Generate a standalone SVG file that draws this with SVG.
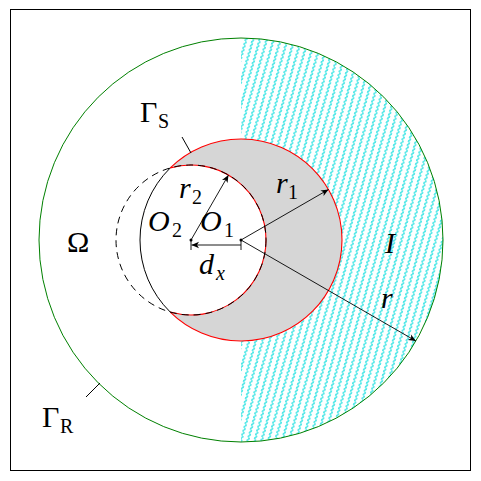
<svg xmlns="http://www.w3.org/2000/svg" width="481" height="481" viewBox="0 0 481 481">
<style>
.lbl{font-family:"Liberation Serif","Times New Roman",serif;font-size:30px;fill:#000}
.it{font-style:italic}
.sub{font-size:20px}
.arr{stroke:#000;stroke-width:0.9;fill:none}
.lead{stroke:#000;stroke-width:1;fill:none}
</style>
<defs>
<marker id="ah" markerWidth="10" markerHeight="8" refX="0" refY="0" viewBox="-8 -4 10 8" orient="auto" markerUnits="userSpaceOnUse">
<path d="M0,0 L-7.5,-3.2 L-5.5,0 L-7.5,3.2 Z" fill="#000"/>
</marker>
<pattern id="hatch" patternUnits="userSpaceOnUse" width="6.6" height="4" patternTransform="rotate(16)">
<path d="M3.3,0 Q4.9,1 3.3,2 Q1.7,3 3.3,4" stroke="#00dcdc" stroke-width="1" fill="none"/>
</pattern>
<clipPath id="rightHalf">
<rect x="241" y="0" width="240" height="481"/>
</clipPath>
</defs>
<rect x="10.5" y="9.5" width="460" height="461" fill="#fff" stroke="#000" stroke-width="1"/>
<g id="region-I">
<circle cx="241" cy="240" r="202" fill="url(#hatch)" clip-path="url(#rightHalf)"/>
</g>
<g id="gamma-R">
<circle cx="241" cy="240" r="202" fill="none" stroke="#008000" stroke-width="1"/>
</g>
<g id="gamma-S">
<circle cx="241" cy="240" r="101" fill="#fff"/>
<path d="M170.24,167.93 A101,101 0 1 1 170.24,312.07 A75,75 0 1 0 170.24,167.93 Z" fill="#d6d6d6" stroke="#ff0000" stroke-width="1.1"/>
<path d="M170.24,167.93 A101,101 0 0 0 170.24,312.07" fill="none" stroke="#000" stroke-width="1"/>
</g>
<g id="omega-circle">
<circle cx="191" cy="240" r="75" fill="none" stroke="#000" stroke-width="1" stroke-dasharray="7 5"/>
</g>
<g id="connectors">
<line class="arr" x1="191" y1="240" x2="228.5" y2="175" marker-end="url(#ah)"/>
<line class="arr" x1="241" y1="240" x2="328.5" y2="189.5" marker-end="url(#ah)"/>
<line class="arr" x1="241" y1="240" x2="415.9" y2="341" marker-end="url(#ah)"/>
<line class="arr" x1="241" y1="245" x2="191.5" y2="245" marker-end="url(#ah)"/>
<line class="arr" x1="191" y1="240" x2="191" y2="250"/>
<line class="arr" x1="241" y1="240" x2="241" y2="250"/>
<circle cx="191" cy="240" r="1.5" fill="#000"/>
<circle cx="241" cy="240" r="1.5" fill="#000"/>
<line class="lead" x1="182" y1="137" x2="191" y2="153"/>
<line class="lead" x1="86" y1="397" x2="100" y2="383"/>
</g>
<g id="labels">
<text class="lbl" x="140" y="122">Γ</text>
<text class="lbl sub" x="158" y="128">S</text>
<text class="lbl" x="42" y="427">Γ</text>
<text class="lbl sub" x="60" y="433">R</text>
<text class="lbl" x="67" y="252">Ω</text>
<text class="lbl it" x="385" y="253">I</text>
<text class="lbl it" x="148" y="231">O</text>
<text class="lbl sub" x="172" y="237">2</text>
<text class="lbl it" x="200" y="231">O</text>
<text class="lbl sub" x="224" y="237">1</text>
<text class="lbl it" x="179" y="198">r</text>
<text class="lbl sub" x="192" y="204">2</text>
<text class="lbl it" x="276" y="193">r</text>
<text class="lbl sub" x="288" y="199">1</text>
<text class="lbl it" x="199" y="274">d</text>
<text class="lbl it sub" x="216" y="280">x</text>
<text class="lbl it" x="381" y="308">r</text>
</g>
</svg>
